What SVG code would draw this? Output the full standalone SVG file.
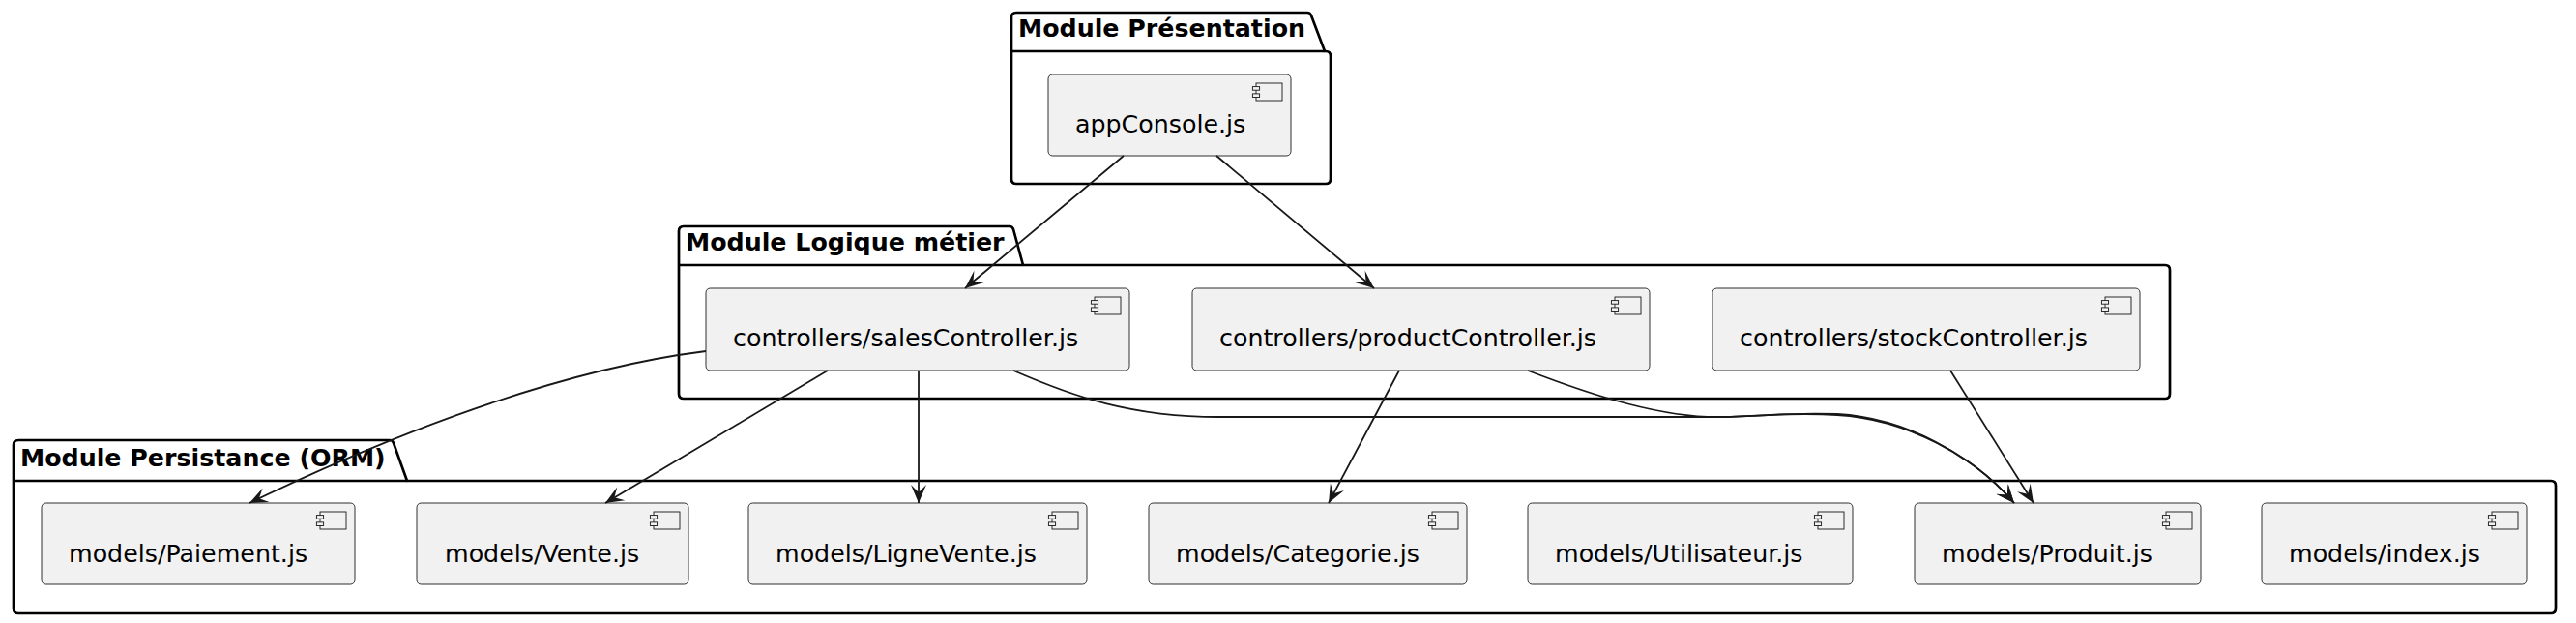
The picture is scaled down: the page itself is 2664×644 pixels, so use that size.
<svg xmlns="http://www.w3.org/2000/svg" xmlns:xlink="http://www.w3.org/1999/xlink" width="2664" height="644" viewBox="0 0 2664 644">
<style>
.pkg{fill:none;stroke:#000;stroke-width:2.7;stroke-linejoin:round}
.ptitle{font-family:"DejaVu Sans","Liberation Sans",sans-serif;font-size:25.3px;font-weight:bold;fill:#000}
.box{fill:#F1F1F1;stroke:#181818;stroke-width:0.9}
.lbl{font-family:"DejaVu Sans","Liberation Sans",sans-serif;font-size:25.3px;fill:#000}
.ic{fill:#F1F1F1;stroke:#181818;stroke-width:0.9}
.edge{fill:none;stroke:#181818;stroke-width:1.8}
</style>
<defs>
<g id="icon">
<rect class="ic" x="-36" y="9" width="27" height="18"/>
<rect class="ic" x="-39.6" y="12.6" width="7.2" height="3.6"/>
<rect class="ic" x="-39.6" y="19.9" width="7.2" height="3.6"/>
</g>
<marker id="arr" markerUnits="userSpaceOnUse" markerWidth="22" markerHeight="18" viewBox="-20 -9 22 18" refX="0" refY="0" orient="auto">
<path d="M0,0 L-19,-8 L-11,0 L-19,8 Z" fill="#181818"/>
</marker>
</defs>
<rect width="2664" height="644" fill="#fff"/>

<g id="pkg-presentation">
<path class="pkg" d="M1046,18 Q1046,13 1051,13 L1352,13 Q1355,13 1356,16 L1370,53 L1371,53 Q1376,53 1376,58 L1376,185 Q1376,190 1371,190 L1051,190 Q1046,190 1046,185 Z"/>
<path class="pkg" d="M1046,53 H1370"/>
<text class="ptitle" x="1053" y="38">Module Présentation</text>
</g>
<g id="pkg-logique">
<path class="pkg" d="M702,239 Q702,234 707,234 L1044,234 Q1047,234 1048,237 L1058,274 L2239,274 Q2244,274 2244,279 L2244,407 Q2244,412 2239,412 L707,412 Q702,412 702,407 Z"/>
<path class="pkg" d="M702,274 H1058"/>
<text class="ptitle" x="709" y="259">Module Logique métier</text>
</g>
<g id="pkg-persistance">
<path class="pkg" d="M14,460 Q14,455 19,455 L403,455 Q406,455 407,458 L421,497 L2638,497 Q2643,497 2643,502 L2643,629 Q2643,634 2638,634 L19,634 Q14,634 14,629 Z"/>
<path class="pkg" d="M14,497 H421"/>
<text class="ptitle" x="21" y="482">Module Persistance (ORM)</text>
</g>

<g id="appConsole">
<rect class="box" x="1084" y="77" width="251" height="84" rx="4.5"/>
<use xlink:href="#icon" x="1335" y="77"/>
<text class="lbl" x="1112" y="137">appConsole.js</text>
</g>
<g id="salesController">
<rect class="box" x="730" y="298" width="438" height="85" rx="4.5"/>
<use xlink:href="#icon" x="1168" y="298"/>
<text class="lbl" x="758" y="358">controllers/salesController.js</text>
</g>
<g id="productController">
<rect class="box" x="1233" y="298" width="473" height="85" rx="4.5"/>
<use xlink:href="#icon" x="1706" y="298"/>
<text class="lbl" x="1261" y="358">controllers/productController.js</text>
</g>
<g id="stockController">
<rect class="box" x="1771" y="298" width="442" height="85" rx="4.5"/>
<use xlink:href="#icon" x="2213" y="298"/>
<text class="lbl" x="1799" y="358">controllers/stockController.js</text>
</g>

<g id="Paiement">
<rect class="box" x="43" y="520" width="324" height="84" rx="4.5"/>
<use xlink:href="#icon" x="367" y="520"/>
<text class="lbl" x="71" y="581">models/Paiement.js</text>
</g>
<g id="Vente">
<rect class="box" x="431" y="520" width="281" height="84" rx="4.5"/>
<use xlink:href="#icon" x="712" y="520"/>
<text class="lbl" x="460" y="581">models/Vente.js</text>
</g>
<g id="LigneVente">
<rect class="box" x="774" y="520" width="350" height="84" rx="4.5"/>
<use xlink:href="#icon" x="1124" y="520"/>
<text class="lbl" x="802" y="581">models/LigneVente.js</text>
</g>
<g id="Categorie">
<rect class="box" x="1188" y="520" width="329" height="84" rx="4.5"/>
<use xlink:href="#icon" x="1517" y="520"/>
<text class="lbl" x="1216" y="581">models/Categorie.js</text>
</g>
<g id="Utilisateur">
<rect class="box" x="1580" y="520" width="336" height="84" rx="4.5"/>
<use xlink:href="#icon" x="1916" y="520"/>
<text class="lbl" x="1608" y="581">models/Utilisateur.js</text>
</g>
<g id="Produit">
<rect class="box" x="1980" y="520" width="296" height="84" rx="4.5"/>
<use xlink:href="#icon" x="2276" y="520"/>
<text class="lbl" x="2008" y="581">models/Produit.js</text>
</g>
<g id="index">
<rect class="box" x="2339" y="520" width="274" height="84" rx="4.5"/>
<use xlink:href="#icon" x="2613" y="520"/>
<text class="lbl" x="2367" y="581">models/index.js</text>
</g>

<g id="connectors">
<path class="edge" marker-end="url(#arr)" d="M1162,161 L998,298"/>
<path class="edge" marker-end="url(#arr)" d="M1258,161 L1421,298"/>
<path class="edge" marker-end="url(#arr)" d="M730,363 C560,384 370,466 258,520"/>
<path class="edge" marker-end="url(#arr)" d="M856,383 L626,520"/>
<path class="edge" marker-end="url(#arr)" d="M950,383 L950,520"/>
<path class="edge" marker-end="url(#arr)" d="M1048,383 C1110,410 1170,431 1260,431 L1780,431 C1830,430 1850,426 1900,428 C1970,432 2040,470 2083,520"/>
<path class="edge" marker-end="url(#arr)" d="M1447,383 L1374,520"/>
<path class="edge" marker-end="url(#arr)" d="M1580,383 C1650,410 1720,432 1780,431 C1830,430 1850,426 1900,429 C1972,433 2042,472 2083,520"/>
<path class="edge" marker-end="url(#arr)" d="M2017,383 L2103,520"/>
</g>
</svg>
